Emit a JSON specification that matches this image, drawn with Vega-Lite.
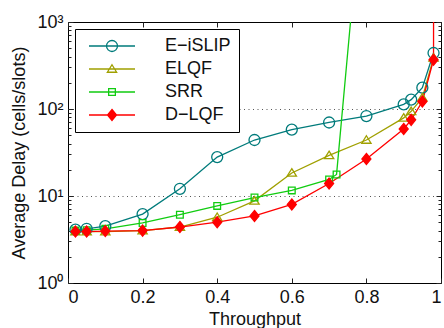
{
  "$schema": "https://vega.github.io/schema/vega-lite/v6.json",
  "width": 373,
  "height": 261,
  "autosize": {"type": "none"},
  "padding": {"left": 68, "top": 22, "right": 3, "bottom": 45},
  "config": {
    "font": "Liberation Sans",
    "view": {"stroke": "#000000", "strokeWidth": 1},
    "axis": {"labelFont": "Liberation Sans", "titleFont": "Liberation Sans", "labelColor": "#111", "titleColor": "#111", "tickColor": "#222"}
  },
  "data": {
    "values": [
      {"s": "E−iSLIP", "x": 0.02, "y": 4.1},
      {"s": "E−iSLIP", "x": 0.05, "y": 4.2},
      {"s": "E−iSLIP", "x": 0.1, "y": 4.5},
      {"s": "E−iSLIP", "x": 0.2, "y": 6.2},
      {"s": "E−iSLIP", "x": 0.3, "y": 12.1},
      {"s": "E−iSLIP", "x": 0.4, "y": 28},
      {"s": "E−iSLIP", "x": 0.5, "y": 44},
      {"s": "E−iSLIP", "x": 0.6, "y": 58},
      {"s": "E−iSLIP", "x": 0.7, "y": 70},
      {"s": "E−iSLIP", "x": 0.8, "y": 83},
      {"s": "E−iSLIP", "x": 0.9, "y": 113},
      {"s": "E−iSLIP", "x": 0.92, "y": 128},
      {"s": "E−iSLIP", "x": 0.95, "y": 176},
      {"s": "E−iSLIP", "x": 0.98, "y": 440},
      {"s": "ELQF", "x": 0.02, "y": 3.9},
      {"s": "ELQF", "x": 0.05, "y": 3.9},
      {"s": "ELQF", "x": 0.1, "y": 3.9},
      {"s": "ELQF", "x": 0.2, "y": 4.0},
      {"s": "ELQF", "x": 0.3, "y": 4.4},
      {"s": "ELQF", "x": 0.4, "y": 5.7},
      {"s": "ELQF", "x": 0.5, "y": 8.8},
      {"s": "ELQF", "x": 0.6, "y": 18.4},
      {"s": "ELQF", "x": 0.7, "y": 29.3},
      {"s": "ELQF", "x": 0.8, "y": 44},
      {"s": "ELQF", "x": 0.9, "y": 79},
      {"s": "ELQF", "x": 0.92, "y": 94},
      {"s": "ELQF", "x": 0.95, "y": 135},
      {"s": "ELQF", "x": 0.98, "y": 386},
      {"s": "SRR", "x": 0.02, "y": 4.0},
      {"s": "SRR", "x": 0.05, "y": 4.05},
      {"s": "SRR", "x": 0.1, "y": 4.2},
      {"s": "SRR", "x": 0.2, "y": 4.9},
      {"s": "SRR", "x": 0.3, "y": 6.1},
      {"s": "SRR", "x": 0.4, "y": 7.7},
      {"s": "SRR", "x": 0.5, "y": 9.6},
      {"s": "SRR", "x": 0.6, "y": 11.6},
      {"s": "SRR", "x": 0.7, "y": 15.5},
      {"s": "SRR", "x": 0.72, "y": 17.7},
      {"s": "SRR", "x": 0.8, "y": 100000},
      {"s": "D−LQF", "x": 0.02, "y": 3.9},
      {"s": "D−LQF", "x": 0.05, "y": 3.9},
      {"s": "D−LQF", "x": 0.1, "y": 3.95},
      {"s": "D−LQF", "x": 0.2, "y": 4.0},
      {"s": "D−LQF", "x": 0.3, "y": 4.4},
      {"s": "D−LQF", "x": 0.4, "y": 5.0},
      {"s": "D−LQF", "x": 0.5, "y": 5.9},
      {"s": "D−LQF", "x": 0.6, "y": 8.0},
      {"s": "D−LQF", "x": 0.7, "y": 13.9},
      {"s": "D−LQF", "x": 0.8, "y": 26.6},
      {"s": "D−LQF", "x": 0.9, "y": 59},
      {"s": "D−LQF", "x": 0.92, "y": 75},
      {"s": "D−LQF", "x": 0.95, "y": 122},
      {"s": "D−LQF", "x": 0.98, "y": 369},
      {"s": "D−LQF", "x": 0.9805, "y": 100000000}
    ]
  },
  "layer": [
    {
      "mark": {"type": "line", "clip": true, "strokeWidth": 1.3},
      "encoding": {
        "x": {
          "field": "x", "type": "quantitative",
          "scale": {"domain": [0, 1], "nice": false, "zero": false},
          "axis": {
            "orient": "bottom", "values": [0, 0.2, 0.4, 0.6, 0.8, 1], "format": "~g",
            "tickSize": -5, "labelPadding": 10, "domain": false, "grid": false,
            "labelFontSize": 18, "title": "Throughput", "titleFontSize": 18, "titleFontWeight": "normal", "titlePadding": 4
          }
        },
        "y": {
          "field": "y", "type": "quantitative",
          "scale": {"type": "log", "domain": [1, 1000], "nice": false},
          "axis": {
            "orient": "left",
            "values": [1,2,3,4,5,6,7,8,9,10,20,30,40,50,60,70,80,90,100,200,300,400,500,600,700,800,900,1000],
            "labelExpr": "datum.value == 1 ? '10⁰' : datum.value == 10 ? '10¹' : datum.value == 100 ? '10²' : datum.value == 1000 ? '10³' : ''",
            "tickSize": {"condition": {"test": "datum.value == 1 || datum.value == 10 || datum.value == 100 || datum.value == 1000", "value": -5}, "value": -3},
            "labelPadding": 10,
            "labelFontSize": 18,
            "labelBaseline": "middle",
            "domain": false,
            "grid": true,
            "gridColor": "#555",
            "gridDash": [1, 3.5],
            "gridOpacity": {"condition": {"test": "datum.value == 10 || datum.value == 100", "value": 1}, "value": 0},
            "title": "Average Delay (cells/slots)", "titleFontSize": 18, "titleFontWeight": "normal", "titlePadding": 8
          }
        },
        "color": {
          "field": "s", "type": "nominal",
          "scale": {"domain": ["E−iSLIP", "ELQF", "SRR", "D−LQF"], "range": ["#007b7b", "#a0a000", "#11cc11", "#ff0000"]},
          "legend": {
            "title": null,
            "orient": "none", "legendX": 7, "legendY": 7,
            "padding": 8,
            "strokeColor": "#000", "fillColor": "#fff",
            "labelFontSize": 18, "labelFont": "Liberation Sans", "labelColor": "#111",
            "symbolSize": 100, "symbolOffset": 20, "labelOffset": 44,
            "symbolStrokeWidth": 1.3, "rowPadding": 5,
            "encode": {
              "symbols": {
                "update": {
                  "shape": {"signal": "datum.value === 'E−iSLIP' ? 'M-4.6,0L4.6,0M1.1,0A1.1,1.1 0 1,1 -1.1,0A1.1,1.1 0 1,1 1.1,0Z' : datum.value === 'ELQF' ? 'M-4.6,0L4.6,0M0,-0.85L0.93,0.65L-0.93,0.65Z' : datum.value === 'SRR' ? 'M-4.6,0L4.6,0M-0.67,-0.67L0.67,-0.67L0.67,0.67L-0.67,0.67Z' : 'M-4.6,0L4.6,0M0,-1.1L0.9,0L0,1.1L-0.9,0Z'"},
                  "fill": {"signal": "datum.value === 'D−LQF' ? '#ff0000' : 'transparent'"},
                  "size": {"value": 100},
                  "strokeWidth": {"value": 1.3},
                  "opacity": {"value": 1}
                }
              }
            }
          }
        }
      }
    },
    {
      "transform": [{"filter": "datum.s === 'E−iSLIP'"}],
      "mark": {"type": "point", "clip": true, "opacity": 1, "strokeWidth": 1.3, "size": 100, "filled": false, "stroke": "#007b7b", "fill": "transparent",
        "shape": "M1.1,0A1.1,1.1 0 1,1 -1.1,0A1.1,1.1 0 1,1 1.1,0Z"},
      "encoding": {
        "x": {
          "field": "x", "type": "quantitative",
          "axis": {"orient": "top", "values": [0, 0.2, 0.4, 0.6, 0.8, 1], "labels": false, "tickSize": -5, "domain": false, "grid": false, "title": null}
        },
        "y": {
          "field": "y", "type": "quantitative",
          "axis": {
            "orient": "right",
            "values": [1,2,3,4,5,6,7,8,9,10,20,30,40,50,60,70,80,90,100,200,300,400,500,600,700,800,900,1000],
            "labels": false,
            "tickSize": {"condition": {"test": "datum.value == 1 || datum.value == 10 || datum.value == 100 || datum.value == 1000", "value": -5}, "value": -3},
            "domain": false, "grid": false, "title": null
          }
        }
      }
    },
    {
      "transform": [{"filter": "datum.s === 'ELQF'"}],
      "mark": {"type": "point", "clip": true, "opacity": 1, "strokeWidth": 1.3, "size": 100, "filled": false, "stroke": "#a0a000", "fill": "transparent",
        "shape": "M0,-0.85L0.93,0.65L-0.93,0.65Z"},
      "encoding": {
        "x": {"field": "x", "type": "quantitative", "axis": null},
        "y": {"field": "y", "type": "quantitative", "axis": null}
      }
    },
    {
      "transform": [{"filter": "datum.s === 'SRR'"}],
      "mark": {"type": "point", "clip": true, "opacity": 1, "strokeWidth": 1.3, "size": 100, "filled": false, "stroke": "#11cc11", "fill": "transparent",
        "shape": "M-0.67,-0.67L0.67,-0.67L0.67,0.67L-0.67,0.67Z"},
      "encoding": {
        "x": {"field": "x", "type": "quantitative", "axis": null},
        "y": {"field": "y", "type": "quantitative", "axis": null}
      }
    },
    {
      "transform": [{"filter": "datum.s === 'D−LQF'"}],
      "mark": {"type": "point", "clip": true, "opacity": 1, "strokeWidth": 1.3, "size": 100, "filled": true, "stroke": "#ff0000", "fill": "#ff0000",
        "shape": "M0,-1.1L0.9,0L0,1.1L-0.9,0Z"},
      "encoding": {
        "x": {"field": "x", "type": "quantitative", "axis": null},
        "y": {"field": "y", "type": "quantitative", "axis": null}
      }
    }
  ]
}
